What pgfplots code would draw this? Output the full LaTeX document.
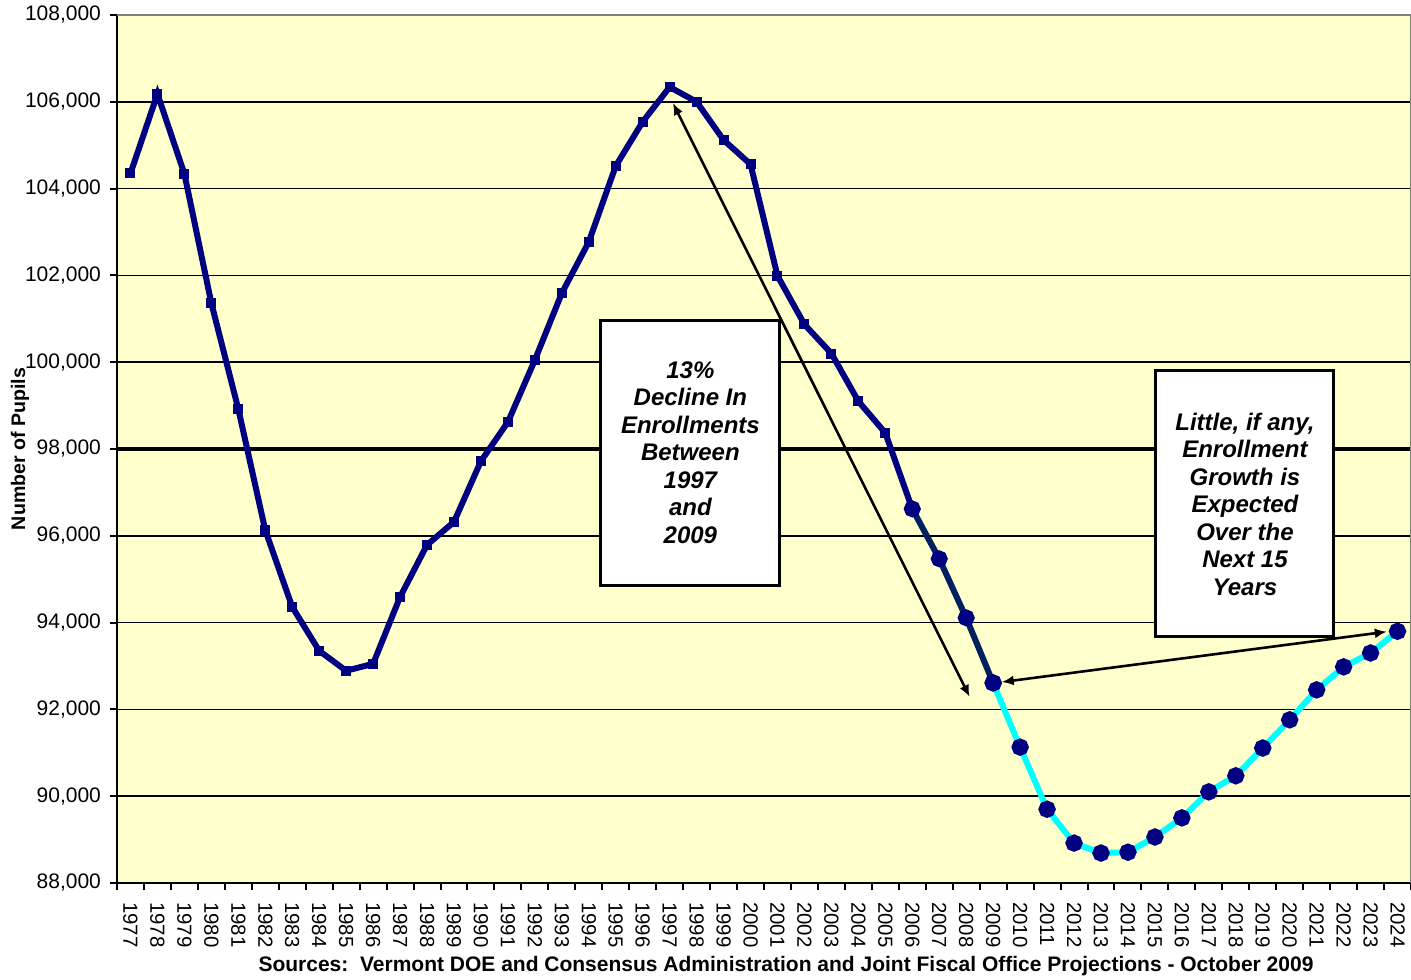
\documentclass[border=0pt]{standalone}
\usepackage{pgfplots}
\pgfplotsset{compat=1.18}
\usepackage{pgfplotstable}
\usepackage{fontspec}
\setmainfont{Liberation Sans}
\usetikzlibrary{arrows.meta}
\definecolor{bgyellow}{HTML}{FFFFCC}
\definecolor{navyline}{HTML}{000080}
\definecolor{darknavy}{HTML}{002060}
\definecolor{cyanline}{HTML}{00FFFF}

\pgfplotstableread{
x y
0 104350
1 106180
2 104340
3 101360
4 98920
5 96130
6 94360
7 93350
8 92890
9 93050
10 94590
11 95790
12 96320
13 97720
14 98620
15 100050
16 101590
17 102770
18 104520
19 105540
20 106340
21 106000
22 105120
23 104560
24 101990
25 100870
26 100200
27 99100
28 98370
29 96620
}\hist

\pgfplotstableread{
x y
29 96620
30 95470
31 94110
32 92610
}\recent

\pgfplotstableread{
x y
32 92610
33 91130
34 89700
35 88920
36 88690
37 88710
38 89060
39 89500
40 90100
41 90470
42 91110
43 91760
44 92450
45 92980
46 93300
47 93800
}\proj

\begin{document}
\begin{tikzpicture}
\begin{axis}[
  scale only axis,
  width=647pt, height=434pt,
  xmin=-0.5, xmax=47.5,
  ymin=88000, ymax=108000,
  axis lines*=left,
  axis line style={black, line width=1.2pt},
  axis background/.style={fill=bgyellow},
  xtick={-0.5,0.5,...,47.5},
  x tick label as interval,
  xticklabels={1977,1978,1979,1980,1981,1982,1983,1984,1985,1986,1987,1988,1989,1990,1991,1992,1993,1994,1995,1996,1997,1998,1999,2000,2001,2002,2003,2004,2005,2006,2007,2008,2009,2010,2011,2012,2013,2014,2015,2016,2017,2018,2019,2020,2021,2022,2023,2024},
  xticklabel style={yshift=-2.5pt, rotate=-90, anchor=west, font=\fontsize{10.2}{12}\selectfont},
  ytick={88000,90000,...,108000},
  scaled y ticks=false,
  yticklabel style={/pgf/number format/.cd, fixed, 1000 sep={,}, assume math mode=true, /tikz/.cd, xshift=-1pt, font=\fontsize{10.5}{12}\selectfont},
  tick align=outside,
  major tick length=3.5pt,
  tick style={black, line width=1pt},
  ymajorgrids,
  major grid style={black, line width=0.8pt},
  extra y ticks={98000},
  extra y tick labels={},
  extra y tick style={major grid style={black, line width=1.6pt}},
  ylabel={Number of Pupils},
  every axis y label/.style={at={(axis description cs:-0.075,0.5)}, rotate=90, anchor=center, font=\bfseries\fontsize{9.8}{11}\selectfont},
  xlabel={Sources:\ \ Vermont DOE and Consensus Administration and Joint Fiscal Office Projections - October 2009},
  every axis x label/.style={at={(axis description cs:0.517,-0.0956)}, anchor=center, font=\bfseries\fontsize{10.5}{12}\selectfont},
]
\addplot[navyline, line width=3pt, mark=square*, mark size=1pt, mark options={fill=navyline, draw=navyline}] table[x=x,y=y] {\hist};
\addplot[darknavy, line width=3pt, mark=*, mark size=2.7pt, mark options={fill=navyline, draw=navyline}] table[x=x,y=y] {\recent};
\addplot[cyanline, line width=3pt, mark=*, mark size=2.8pt, mark options={fill=navyline, draw=navyline}] table[x=x,y=y] {\proj};

\draw[gray, line width=1pt] (rel axis cs:0,1) -- (rel axis cs:1,1) -- (rel axis cs:1,0);

\draw[black, line width=1.3pt, {Latex[length=6pt,width=5pt]}-{Latex[length=6pt,width=5pt]}] (axis cs:20.12,105972) -- (axis cs:31.13,92286);
\draw[black, line width=1.3pt, {Latex[length=6pt,width=5pt]}-{Latex[length=6pt,width=5pt]}] (axis cs:32.32,92630) -- (axis cs:46.6,93790);

\node[draw=black, line width=1.5pt, fill=white, minimum width=89.5pt, minimum height=132.5pt, align=center, inner sep=2pt, font=\bfseries\itshape\fontsize{12}{13.75}\selectfont] at (axis cs:20.77,97919) {13\%\\Decline In\\Enrollments\\Between\\1997\\and\\2009};
\node[draw=black, line width=1.5pt, fill=white, minimum width=89pt, minimum height=133pt, align=center, inner sep=2pt, font=\bfseries\itshape\fontsize{12}{13.75}\selectfont] at (axis cs:41.34,96733) {Little, if any,\\Enrollment\\Growth is\\Expected\\Over the\\Next 15\\Years};
\end{axis}
\pgfresetboundingbox
\path[use as bounding box] (-58.5pt,-48pt) rectangle (647pt,441.5pt);
\end{tikzpicture}
\end{document}
